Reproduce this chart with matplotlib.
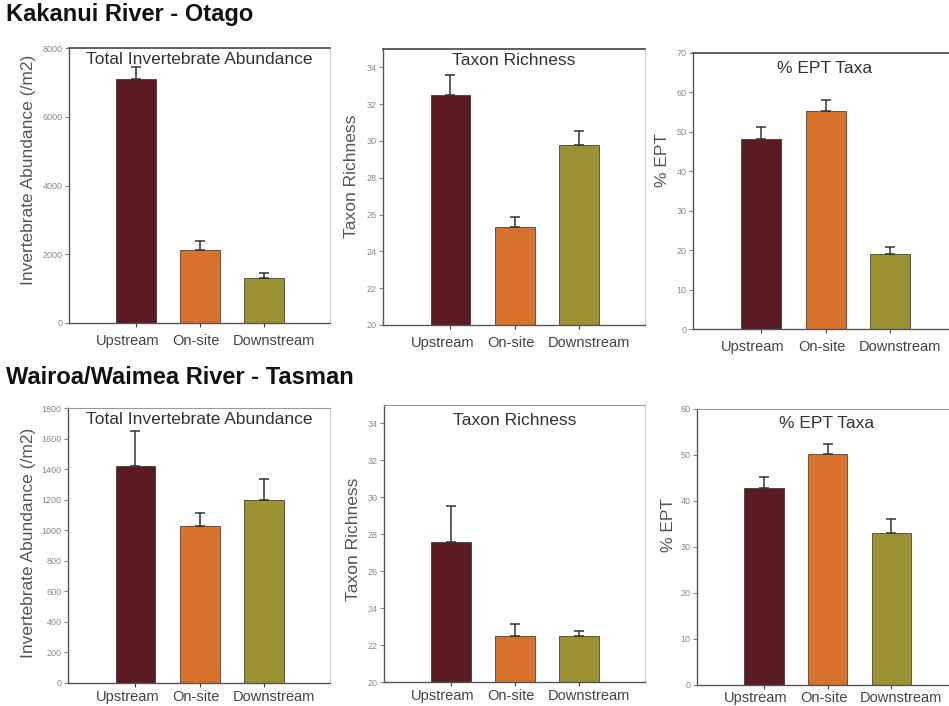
import matplotlib as mpl
import matplotlib.pyplot as plt
from matplotlib.transforms import ScaledTranslation

mpl.rcParams['font.family'] = ['Liberation Sans', 'DejaVu Sans']

# data
sites = ['Upstream', 'On-site', 'Downstream']
colors = ['#5a1b22', '#d8712a', '#9a9132']

kak_abund = [7100, 2120, 1320]
kak_abund_err = [350, 260, 140]
kak_rich = [32.5, 25.35, 29.8]
kak_rich_err = [1.1, 0.5, 0.73]
kak_ept = [48.2, 55.4, 19.0]
kak_ept_err = [3.1, 2.7, 1.9]

wai_abund = [1420, 1030, 1200]
wai_abund_err = [230, 85, 138]
wai_rich = [27.6, 22.5, 22.5]
wai_rich_err = [1.95, 0.63, 0.27]
wai_ept = [42.9, 50.2, 33.1]
wai_ept_err = [2.4, 2.2, 2.9]

W, H = 949, 706
# small sideways nudges of the site labels (pixels), they sit spread out in the original
label_shift = [-8, -4, 10]


def add_ax(fig, left, right, top, bottom):
    # pixel box -> figure fraction
    return fig.add_axes([left / W, 1 - bottom / H, (right - left) / W, (bottom - top) / H])


def draw_panel(ax, vals, errs, title, ylabel, ylim, yticks, label_xy, title_y=0.985,
               top_dark=True, xpad=5):
    x = range(len(vals))
    ax.bar(x, vals, width=0.62, color=colors, edgecolor='#2a2a2a', linewidth=0.5, zorder=2)
    ax.errorbar(x, vals, yerr=[[0] * len(errs), errs], fmt='none', ecolor='#333333',
                elinewidth=1.1, capsize=3.5, capthick=1.1, zorder=3)
    ax.set_xlim(-1.05, 3.03)
    ax.set_ylim(*ylim)
    ax.set_yticks(yticks)
    ax.set_xticks(list(x))
    ax.set_xticklabels(sites, fontsize=10.5, color='#444444')
    ax.tick_params(axis='x', length=3, color='#444444', pad=xpad)
    for lab, dx in zip(ax.get_xticklabels(), label_shift):
        lab.set_transform(lab.get_transform() + ScaledTranslation(dx / 100, 0, fig.dpi_scale_trans))
    ax.tick_params(axis='y', length=3, color='#888888', labelsize=6.5, labelcolor='#888888', pad=1.5)
    ax.set_ylabel(ylabel, fontsize=12.5, color='#555555')
    ax.yaxis.set_label_coords(*label_xy)
    ax.yaxis.label.set_verticalalignment('center')
    ax.text(0.5, title_y, title, transform=ax.transAxes, ha='center', va='top',
            fontsize=12.5, color='#333333')
    for side in ['left', 'bottom']:
        ax.spines[side].set_color('#555555')
        ax.spines[side].set_linewidth(1.0)
    ax.spines['top'].set_color('#444444' if top_dark else '#999999')
    ax.spines['top'].set_linewidth(1.2 if top_dark else 0.8)
    ax.spines['right'].set_color('#cccccc')
    ax.spines['right'].set_linewidth(0.8)


fig = plt.figure(figsize=(W / 100, H / 100), dpi=100)

fig.text(6 / W, 1 - 15 / H, 'Kakanui River - Otago', fontsize=17, fontweight='bold',
         color='#111111', va='center', ha='left')
fig.text(6 / W, 1 - 378 / H, 'Wairoa/Waimea River - Tasman', fontsize=17, fontweight='bold',
         color='#111111', va='center', ha='left')

ax1 = add_ax(fig, 69, 330, 48, 323)
draw_panel(ax1, kak_abund, kak_abund_err, 'Total Invertebrate Abundance',
           'Invertebrate Abundance (/m2)', (0, 8000), range(0, 8001, 2000), (-0.155, 0.556))
ax2 = add_ax(fig, 383, 645, 49, 325)
draw_panel(ax2, kak_rich, kak_rich_err, 'Taxon Richness', 'Taxon Richness',
           (20, 35), range(20, 35, 2), (-0.12, 0.54))
ax3 = add_ax(fig, 693, 957, 53, 329)
draw_panel(ax3, kak_ept, kak_ept_err, '% EPT Taxa', '% EPT', (0, 70), range(0, 71, 10),
           (-0.115, 0.612), title_y=0.97)

ax4 = add_ax(fig, 68, 330, 408, 683)
draw_panel(ax4, wai_abund, wai_abund_err, 'Total Invertebrate Abundance',
           'Invertebrate Abundance (/m2)', (0, 1800), range(0, 1801, 200), (-0.15, 0.509),
           top_dark=False, xpad=2)
ax5 = add_ax(fig, 384, 645, 405, 682)
draw_panel(ax5, wai_rich, wai_rich_err, 'Taxon Richness', 'Taxon Richness',
           (20, 35), range(20, 35, 2), (-0.118, 0.516), title_y=0.97, top_dark=False, xpad=2)
ax6 = add_ax(fig, 697, 957, 409, 685)
draw_panel(ax6, wai_ept, wai_ept_err, '% EPT Taxa', '% EPT', (0, 60), range(0, 61, 10),
           (-0.11, 0.58), title_y=0.975, top_dark=False, xpad=1)

plt.savefig('out.png', dpi=100)
plt.close('all')
